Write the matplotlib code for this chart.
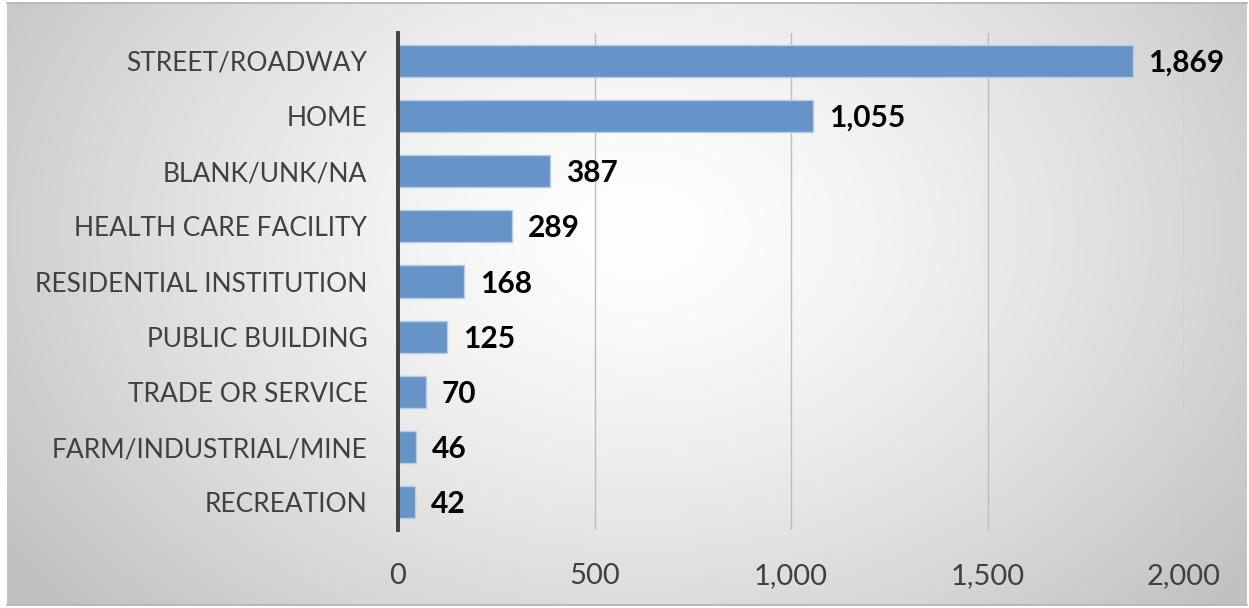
import numpy as np
import matplotlib
matplotlib.use("Agg")
import matplotlib.pyplot as plt

# Locations and counts
categories = [
    "STREET/ROADWAY",
    "HOME",
    "BLANK/UNK/NA",
    "HEALTH CARE FACILITY",
    "RESIDENTIAL INSTITUTION",
    "PUBLIC BUILDING",
    "TRADE OR SERVICE",
    "FARM/INDUSTRIAL/MINE",
    "RECREATION",
]
counts = [1869, 1055, 387, 289, 168, 125, 70, 46, 42]
x_ticks = [0, 500, 1000, 1500, 2000]
x_tick_labels = ["0", "500", "1,000", "1,500", "2,000"]

W, H, DPI = 1249, 608, 100
fig = plt.figure(figsize=(W / DPI, H / DPI), dpi=DPI)
fig.patch.set_facecolor("white")

# Panel with a soft radial gradient background
panel_l, panel_r, panel_t, panel_b = 7, 1247, 3, 605
bg = fig.add_axes([panel_l / W, 1 - panel_b / H, (panel_r - panel_l) / W, (panel_b - panel_t) / H])
yy, xx = np.mgrid[panel_t:panel_b, panel_l:panel_r]
cx, cy = 640, 230
d = np.sqrt(((xx - cx) / 760.0) ** 2 + ((yy - cy) / 560.0) ** 2)
d = np.clip(d, 0, 1)
val = 1.0 - 0.24 * d ** 1.4
img = np.dstack([val, val, val])
bg.imshow(img, aspect="auto", extent=[0, 1, 0, 1], interpolation="bilinear")
bg.set_xlim(0, 1)
bg.set_ylim(0, 1)
bg.axis("off")
# thin grey frame line along the top and bottom edges
fig.add_artist(plt.Line2D([panel_l / W, panel_r / W], [1 - panel_t / H] * 2, color="#b0b0b0", lw=1.2))
fig.add_artist(plt.Line2D([panel_l / W, panel_r / W], [1 - panel_b / H] * 2, color="#b0b0b0", lw=1.2))

# Bar chart axes
ax_l, ax_r, ax_t, ax_b = 398, 1184, 33, 530
ax = fig.add_axes([ax_l / W, 1 - ax_b / H, (ax_r - ax_l) / W, (ax_b - ax_t) / H])
ax.patch.set_alpha(0)

font = "Lato"
y = np.arange(len(categories))
ax.barh(y, counts, height=0.58, color="#6794c8", edgecolor="#b8cce6", linewidth=1.0, zorder=3)
ax.set_ylim(len(categories) - 0.5, -0.5)
ax.set_xlim(0, 2000)

ax.set_xticks(x_ticks)
ax.set_xticklabels(x_tick_labels, fontsize=21, color="#404040", family=font)
ax.set_yticks(y)
ax.set_yticklabels(categories, fontsize=19, color="#404040", family=font)
ax.tick_params(axis="x", length=0, pad=24)
ax.tick_params(axis="y", length=0, pad=22)

ax.grid(axis="x", color="#bdbdbd", linewidth=1.0, zorder=0)
for s in ["top", "right", "bottom"]:
    ax.spines[s].set_visible(False)
ax.spines["left"].set_color("#404040")
ax.spines["left"].set_linewidth(2.8)
ax.spines["left"].set_zorder(4)

for yi, v in zip(y, counts):
    ax.annotate(f"{v:,}", xy=(v, yi), xytext=(16, -2), textcoords="offset pixels",
                va="center", ha="left", fontsize=21.5, fontweight="bold",
                color="black", family=font)

fig.savefig("out.png", dpi=DPI)
